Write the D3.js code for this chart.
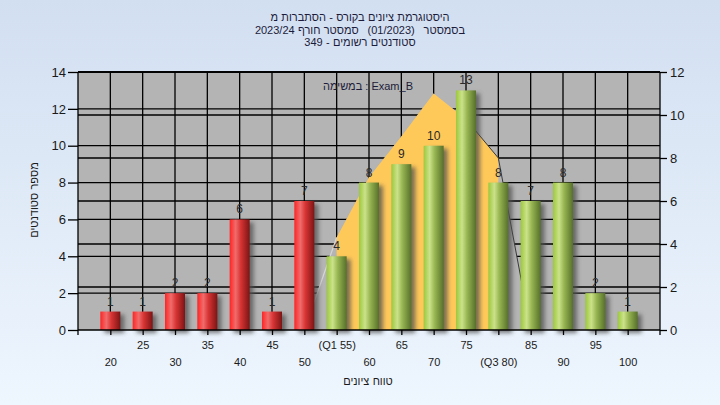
<!DOCTYPE html>
<html><head><meta charset="utf-8">
<script src="https://cdn.jsdelivr.net/npm/d3@7/dist/d3.min.js"></script>
<style>html,body{margin:0;padding:0;overflow:hidden;}svg{display:block;font-family:"Liberation Sans",Arial,sans-serif;}</style>
</head><body><svg id="c" width="720" height="405"></svg>
<script>
const categories = [20,25,30,35,40,45,50,55,60,65,70,75,80,85,90,95,100];
const counts = [1,1,2,2,6,1,7,4,8,9,10,13,8,7,8,2,1];
const tickLabels = ["20","25","30","35","40","45","50","(Q1 55)","60","65","70","75","(Q3 80)","85","90","95","100"];
const curveX = [50,55,60,65,70,75,80,85];
const curveY = [0,4.3,7.1,9,11,9.8,8,0];
const leftTicks = [0,2,4,6,8,10,12,14];
const rightTicks = [0,2,4,6,8,10,12];
// title words in reading order (laid out right to left)
const titleLine1 = ["היסטוגרמת","ציונים","בקורס","-","הסתברות","מ"];
const titleLine2 = ["בסמסטר","","(01/2023)","","סמסטר","חורף","2023/24"];
const titleLine3 = ["סטודנטים","רשומים","-","349"];
const taskLabel = "במשימה : Exam_B";
const xTitle = ["טווח","ציונים"];
const yTitle = ["מספר","סטודנטים"];
const passMark = 55;

const svg = d3.select("#c");
const L=78, R=660, T=72, B=330;
const x = d3.scaleLinear().domain([15,105]).range([L,R]);
const yL = d3.scaleLinear().domain([0,14]).range([B,T]);
const yR = d3.scaleLinear().domain([0,12]).range([B,T]);

const defs = svg.append("defs");
const bg = defs.append("linearGradient").attr("id","bg").attr("x1",0).attr("y1",0).attr("x2",0).attr("y2",1);
bg.append("stop").attr("offset","0%").attr("stop-color","#d2dff1");
bg.append("stop").attr("offset","100%").attr("stop-color","#eef6fe");
function grad(id, stops){
  const g = defs.append("linearGradient").attr("id",id).attr("x1",0).attr("y1",0).attr("x2",1).attr("y2",0);
  stops.forEach(s=>g.append("stop").attr("offset",s[0]).attr("stop-color",s[1]));
}
grad("red",[["0%","#ff2424"],["30%","#f06c6c"],["55%","#d83434"],["100%","#7c1414"]]);
grad("green",[["0%","#9cc83c"],["30%","#cbe28a"],["55%","#98b652"],["100%","#56702a"]]);
const f = defs.append("filter").attr("id","sh").attr("x","-50%").attr("y","-20%").attr("width","200%").attr("height","140%");
f.append("feGaussianBlur").attr("stdDeviation",2.2);

svg.append("rect").attr("width",720).attr("height",405).attr("fill","url(#bg)");
svg.append("rect").attr("x",L).attr("y",T).attr("width",R-L).attr("height",B-T).attr("fill","#b4b4b4");

// grid
const grid = svg.append("g").attr("stroke","#000").attr("stroke-width",1.3);
categories.forEach(c=>grid.append("line").attr("x1",x(c)).attr("x2",x(c)).attr("y1",T).attr("y2",B));
leftTicks.filter(t=>t>0).forEach(t=>grid.append("line").attr("x1",L).attr("x2",R).attr("y1",yL(t)).attr("y2",yL(t)));
rightTicks.filter(t=>t>0).forEach(t=>grid.append("line").attr("x1",L).attr("x2",R).attr("y1",yR(t)).attr("y2",yR(t)));

// curve area
const pts = curveX.map((v,i)=>[v,curveY[i]]);
const area = d3.area().x(d=>x(d[0])).y0(yR(0)).y1(d=>yR(d[1]));
svg.append("path").attr("d",area(pts)).attr("fill","#b4b4b4");
const inner = pts.filter(d=>d[0]>=55 && d[0]<=80);
svg.append("path").attr("d",area(inner)).attr("fill","#ffc95a");
const line = d3.line().x(d=>x(d[0])).y(d=>yR(d[1]));
svg.append("path").attr("d",line(pts.slice(0,2))).attr("fill","none").attr("stroke","#d6d6d6").attr("stroke-width",1.2);
svg.append("path").attr("d",line(pts.slice(5))).attr("fill","none").attr("stroke","#3a3a3a").attr("stroke-width",1);

// bars
const bw = 20;
svg.append("g").selectAll("rect").data(categories).join("rect")
  .attr("x",c=>x(c)-bw/2+4).attr("y",(c,i)=>yL(counts[i])+3)
  .attr("width",bw).attr("height",(c,i)=>B-yL(counts[i]))
  .attr("fill","#505050").attr("opacity",0.75).attr("filter","url(#sh)");
svg.append("g").selectAll("rect").data(categories).join("rect")
  .attr("x",c=>x(c)-bw/2).attr("y",(c,i)=>yL(counts[i]))
  .attr("width",bw).attr("height",(c,i)=>B-yL(counts[i]))
  .attr("fill",c=>c<passMark?"url(#red)":"url(#green)");
svg.append("g").selectAll("text").data(categories).join("text")
  .attr("x",c=>x(c)).attr("y",(c,i)=>yL(counts[i])-6)
  .attr("text-anchor","middle").attr("font-size",12).attr("fill","#2a2a2a")
  .text((c,i)=>counts[i]);

// axes
const ax = svg.append("g").attr("stroke","#000").attr("stroke-width",1.3);
ax.append("line").attr("x1",L).attr("x2",R).attr("y1",T).attr("y2",T);
ax.append("line").attr("x1",L).attr("x2",R).attr("y1",B).attr("y2",B);
ax.append("line").attr("x1",L).attr("x2",L).attr("y1",T).attr("y2",B+5);
ax.append("line").attr("x1",R).attr("x2",R).attr("y1",T).attr("y2",B+5);

const gl = svg.append("g").attr("transform",`translate(${L},0)`)
  .call(d3.axisLeft(yL).tickValues(leftTicks).tickSize(10).tickPadding(2).tickFormat(d3.format("d")));
const gr = svg.append("g").attr("transform",`translate(${R},0)`)
  .call(d3.axisRight(yR).tickValues(rightTicks).tickSize(7).tickPadding(3).tickFormat(d3.format("d")));
const gb = svg.append("g").attr("transform",`translate(0,${B})`)
  .call(d3.axisBottom(x).tickValues(categories).tickSize(5).tickFormat((d,i)=>tickLabels[i]));
[gl,gr,gb].forEach(g=>{
  g.select(".domain").remove();
  g.selectAll("line").attr("stroke","#000").attr("stroke-width",1.3);
  g.selectAll("text").attr("fill","#1a1a1a").attr("font-family","Liberation Sans, Arial, sans-serif");
});
gl.selectAll("text").attr("font-size",13);
gr.selectAll("text").attr("font-size",13);
gb.selectAll("text").attr("font-size",11).attr("dy",null)
  .attr("y",(d,i)=>i%2===0?36:19);

// words laid out right to left (reading order), centred on cx
function words(parent, list, cx, y, size, color){
  const g = parent.append("g").attr("font-size",size).attr("fill",color);
  const gap = size*0.3;
  const items = list.map(w=>{
    if(w===""){ return {w:"",len:gap*0.7}; }
    const t = g.append("text").attr("y",y).attr("text-anchor","middle").text(w);
    return {w, t, len:t.node().getComputedTextLength()};
  });
  const total = d3.sum(items,d=>d.len) + gap*(items.length-1);
  let cur = cx + total/2;
  items.forEach(d=>{ if(d.t) d.t.attr("x",cur - d.len/2); cur -= d.len + gap; });
  return g;
}
words(svg, titleLine1, 360, 21, 11, "#1c1c3a");
words(svg, titleLine2, 360, 33.5, 11, "#1c1c3a");
words(svg, titleLine3, 360, 46, 11, "#1c1c3a");
svg.append("text").attr("x",368).attr("y",90).attr("text-anchor","middle").attr("font-size",11).attr("fill","#1c1c3a").text(taskLabel);
words(svg, xTitle, 368, 385, 11, "#1a1a1a");
const yg = svg.append("g").attr("transform","translate(38,200) rotate(-90)");
words(yg, yTitle, 0, 0, 11, "#1a1a1a");
</script></body></html>
